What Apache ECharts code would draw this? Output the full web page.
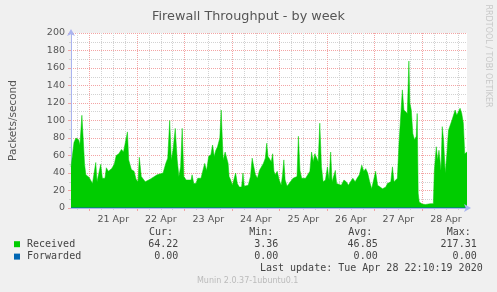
<!DOCTYPE html>
<html>
<head>
<meta charset="utf-8">
<script src="https://cdn.jsdelivr.net/npm/echarts@6/dist/echarts.min.js"></script>
<style>html,body{margin:0;padding:0;background:#f0f0f0;}#c{width:497px;height:292px;}</style>
</head>
<body>
<div id="c"></div>
<script>
// time axis: hours since 20 Apr 00:00
const X_MIN = 14.65;
const X_MAX = 214.65;
const hours = [14.65,15.5,16.15,17.15,18.5,19.15,20.15,20.8,21.5,22.15,23.8,25.5,26.5,27.15,27.8,28.8,29.65,30.5,31.8,32.5,33.5,35.15,36.5,37.5,38.8,40.15,41.15,42.15,43.15,43.8,45.15,46.5,47.5,48.5,49.15,50.15,52.15,54.65,58.15,61.15,62.5,63.5,64.5,65.3,66.15,67.3,68.3,69.15,70,70.8,71.65,72.8,75.3,75.8,76.65,77.8,78.65,80.3,81.15,82.15,83.15,84.15,85.3,86.15,87,87.8,88.65,89.8,90.5,91.5,92.5,93.5,94,94.5,95.3,96.15,97,97.8,98.65,99.65,100.8,101.5,102.15,103.15,104.15,105.3,106.15,107,107.8,108.8,109.8,110.8,111.8,112.8,113.5,114.15,115,115.8,116.5,117.15,117.8,118.8,119.8,120.8,121.5,122.15,122.8,123.8,124.8,125.8,126.8,127.8,128.8,129.5,130.3,131.15,132.15,133.15,135.3,136.15,137,137.8,138.65,139.5,140.3,141.15,142,143.15,144.15,145,145.8,146.5,147.5,148.15,148.8,149.8,151.15,152.5,153.65,154.8,155.8,157,158.15,159.15,160.3,161.5,162.5,163.5,164.5,165.5,166.5,167.5,168.5,169.5,170.5,172,173.65,174.5,175.3,176.15,177,177.8,178.65,179.5,180.3,181.15,182,182.8,183.65,184.5,185.3,185.8,186.5,187.3,188.15,189,189.5,190,190.5,192,193.65,196.15,197.65,198.15,199.15,199.8,200.5,201.5,202.15,202.8,203.65,204.5,205.3,206.15,207,207.8,208.65,209.5,210.3,211.15,212,212.8,213.5,214.15,214.65];
const received = [47,47,75,80,78,72,106,80,50,38,35,28,27,52,30,30,50,34,34,46,42,45,50,60,62,67,64,62,87,55,44,42,33,30,58,36,30,33,38,40,51,57,100,55,66,91,55,36,47,91,36,32,32,38,28,28,34,34,36,51,43,59,61,72,59,66,70,80,112,55,64,62,51,36,32,26,24,40,28,24,24,40,25,26,26,36,57,47,38,34,43,45,51,57,74,59,61,53,62,42,38,42,32,26,38,55,32,25,28,30,34,34,36,82,43,34,36,34,42,64,53,62,61,53,97,47,30,32,47,32,64,30,28,43,28,26,26,32,30,26,30,34,30,34,38,49,42,45,40,30,22,32,42,26,24,22,24,28,26,30,47,30,28,34,74,104,135,112,114,108,168,120,112,85,78,82,108,17,7,4.5,4,5,5,43,70,55,66,43,93,78,40,62,89,91,100,99,112,106,110,114,108,97,62,61,64];
const forwardedHours = [14.65, 214.65];
const forwarded = [0, 0];

const seriesNames = ['Received', 'Forwarded'];
const seriesColors = ['#00cc00', '#0066b3'];
const statHeaders = ['Cur:', 'Min:', 'Avg:', 'Max:'];
const statCur = [64.22, 0.00];
const statMin = [3.36, 0.00];
const statAvg = [46.85, 0.00];
const statMax = [217.31, 0.00];

const dayLabels = ['21 Apr','22 Apr','23 Apr','24 Apr','25 Apr','26 Apr','27 Apr','28 Apr'];
const dayLabelHours = dayLabels.map((d, i) => 36 + 24 * i);
const dayHours = dayLabels.map((d, i) => 24 + 24 * i);
const sixHourTicks = [];
for (let h = 18; h < X_MAX; h += 6) { if (h % 24 !== 0) sixHourTicks.push(h); }

const titleText = 'Firewall Throughput - by week';
const yName = 'Packets/second';
const lastUpdate = 'Last update: Tue Apr 28 22:10:19 2020';
const versionText = 'Munin 2.0.37-1ubuntu0.1';
const sideText = 'RRDTOOL / TOBI OETIKER';

const SANS = 'DejaVu Sans';
const MONO = 'DejaVu Sans Mono';
const axisBlue = '#aab4f0';
const redGrid = '#f3a4a4';
const grayGrid = '#d2d2d2';

const chart = echarts.init(document.getElementById('c'), null, {renderer: 'canvas'});

const statCols = [
  {vals: statCur, headX: 149, right: 178.3},
  {vals: statMin, headX: 249.3, right: 278.3},
  {vals: statAvg, headX: 348.3, right: 377.7},
  {vals: statMax, headX: 446.7, right: 476.7}
];
const rowY = [244.3, 256.7];
const graphics = [];
statCols.forEach((c, ci) => {
  graphics.push({type: 'text', x: c.headX, y: 232, style: {text: statHeaders[ci], font: '10px "' + MONO + '"', fill: '#444', align: 'left', verticalAlign: 'middle'}});
  c.vals.forEach((v, ri) => {
    graphics.push({type: 'text', x: c.right, y: rowY[ri], style: {text: v.toFixed(2), font: '10px "' + MONO + '"', fill: '#444', align: 'right', verticalAlign: 'middle'}});
  });
});
graphics.push({type: 'text', x: 482.7, y: 268.3, style: {text: lastUpdate, font: '10px "' + MONO + '"', fill: '#444', align: 'right', verticalAlign: 'middle'}});
graphics.push({type: 'text', x: 247.7, y: 281, style: {text: versionText, font: '8px "' + SANS + '"', fill: '#bbbbbb', align: 'center', verticalAlign: 'middle'}});
graphics.push({type: 'text', x: 488, y: 56, rotation: -Math.PI / 2, style: {text: sideText, font: '8px "' + SANS + '"', fill: '#c8c8c8', align: 'center', verticalAlign: 'middle'}});

const baseX = {type: 'value', min: X_MIN, max: X_MAX, position: 'bottom', gridIndex: 0};

chart.setOption({
  backgroundColor: '#f0f0f0',
  animation: false,
  title: {text: titleText, left: 'center', top: 5, textStyle: {fontFamily: SANS, fontSize: 12.8, fontWeight: 'normal', color: '#555'}},
  grid: {left: 67, top: 33, width: 400, height: 175, show: true, backgroundColor: '#ffffff', borderWidth: 0},
  legend: {
    orient: 'vertical', left: 14, top: 238, itemWidth: 6, itemHeight: 6, itemGap: 0, icon: 'rect', padding: 0,
    selectedMode: false, data: seriesNames,
    textStyle: {fontFamily: MONO, fontSize: 10, color: '#444', lineHeight: 12.4, padding: [0, 0, 0, 2]}
  },
  xAxis: [
    Object.assign({}, baseX, {
      axisLine: {show: false},
      axisTick: {show: true, customValues: sixHourTicks, length: 2, lineStyle: {color: grayGrid}},
      axisLabel: {show: false},
      splitLine: {show: true, lineStyle: {color: grayGrid, type: [1, 1]}}
    }),
    Object.assign({}, baseX, {
      axisLine: {show: false},
      axisTick: {show: true, customValues: dayHours, length: 3, lineStyle: {color: redGrid}},
      axisLabel: {show: true, customValues: dayLabelHours, margin: 7, fontFamily: SANS, fontSize: 9.5, color: '#555',
        formatter: v => dayLabels[dayLabelHours.indexOf(v)] || ''},
      splitLine: {show: true, lineStyle: {color: redGrid, type: [1, 1]}}
    }),
    Object.assign({}, baseX, {
      z: 3,
      axisLine: {show: true, symbol: ['none', 'arrow'], symbolSize: [6, 7], symbolOffset: [0, 4], lineStyle: {color: axisBlue, width: 1}},
      axisTick: {show: false}, axisLabel: {show: false}, splitLine: {show: false}
    })
  ],
  yAxis: {
    type: 'value', min: 0, max: 200, interval: 20,
    name: yName, nameLocation: 'middle', nameGap: 52, nameRotate: 90,
    nameTextStyle: {fontFamily: SANS, fontSize: 10.5, color: '#555'},
    axisLine: {show: true, symbol: ['none', 'arrow'], symbolSize: [6, 7], symbolOffset: [0, 4], lineStyle: {color: axisBlue, width: 1}},
    axisTick: {show: true, length: 3, lineStyle: {color: redGrid}},
    minorTick: {show: true, splitNumber: 2, length: 2, lineStyle: {color: grayGrid}},
    axisLabel: {fontFamily: SANS, fontSize: 9.5, color: '#555', margin: 6},
    splitLine: {show: true, lineStyle: {color: redGrid, type: [1, 1]}},
    minorSplitLine: {show: true, lineStyle: {color: grayGrid, type: [1, 1]}}
  },
  series: [
    {
      name: seriesNames[0], type: 'line', xAxisIndex: 0, z: 2,
      data: hours.map((h, i) => [h, received[i]]),
      showSymbol: false, symbol: 'none',
      itemStyle: {color: seriesColors[0]},
      lineStyle: {color: seriesColors[0], width: 0.5},
      areaStyle: {color: seriesColors[0], opacity: 1}
    },
    {
      name: seriesNames[1], type: 'line', xAxisIndex: 0, z: 2,
      data: forwardedHours.map((h, i) => [h, forwarded[i]]),
      showSymbol: false, symbol: 'none',
      itemStyle: {color: seriesColors[1]},
      lineStyle: {color: seriesColors[1], width: 1}
    }
  ],
  graphic: graphics
});
</script>
</body>
</html>
